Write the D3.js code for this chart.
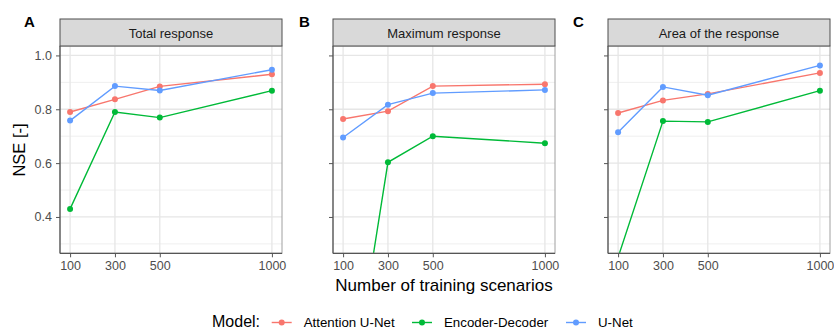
<!DOCTYPE html>
<html>
<head>
<meta charset="utf-8">
<script src="https://cdn.jsdelivr.net/npm/d3@7/dist/d3.min.js"></script>
<style>
  html, body { margin: 0; padding: 0; background: #fff; }
  svg { display: block; font-family: "Liberation Sans", Arial, sans-serif; }
</style>
</head>
<body>
<svg id="chart" width="834" height="332"></svg>
<script>
// Training set sizes on the x axis
const scenarios = [100, 300, 500, 1000];
const xTicks = [100, 300, 500, 1000];
const yTicks = [0.4, 0.6, 0.8, 1.0];
const yMinor = [0.3, 0.5, 0.7, 0.9];

const models = ["Attention U-Net", "Encoder-Decoder", "U-Net"];
const modelColors = ["#F8766D", "#00BA38", "#619CFF"];

const panels = ["Total response", "Maximum response", "Area of the response"];
const panelTags = ["A", "B", "C"];

// NSE per model, one array per panel
const totalAttention = [0.790, 0.837, 0.885, 0.930];
const totalEncDec    = [0.430, 0.790, 0.769, 0.869];
const totalUNet      = [0.758, 0.886, 0.870, 0.947];

const maxAttention = [0.764, 0.793, 0.886, 0.893];
const maxEncDec    = [-0.45, 0.603, 0.700, 0.674];
const maxUNet      = [0.695, 0.817, 0.860, 0.872];

const areaAttention = [0.786, 0.833, 0.857, 0.935];
const areaEncDec    = [0.250, 0.756, 0.753, 0.869];
const areaUNet      = [0.715, 0.883, 0.852, 0.963];

const panelSeries = [
  [totalAttention, totalEncDec, totalUNet],
  [maxAttention, maxEncDec, maxUNet],
  [areaAttention, areaEncDec, areaUNet]
];

const svg = d3.select("#chart");

// layout
const panelLeft = [60, 333, 608];
const panelW = 222;
const stripTop = 19, plotTop = 46, plotBottom = 253.3;
const tagX = [24, 299, 573];

const y = d3.scaleLinear().domain([0.265, 1.035]).range([plotBottom, plotTop]);

panels.forEach((title, p) => {
  const x0 = panelLeft[p];
  const x = d3.scaleLinear().domain([55, 1045]).range([x0, x0 + panelW]);
  const g = svg.append("g");

  // panel background + grid
  g.append("rect").attr("x", x0).attr("y", plotTop).attr("width", panelW)
    .attr("height", plotBottom - plotTop).attr("fill", "#fff");
  g.selectAll(".ymin").data(yMinor).join("line")
    .attr("x1", x0).attr("x2", x0 + panelW)
    .attr("y1", d => y(d)).attr("y2", d => y(d))
    .attr("stroke", "#EFEFEF").attr("stroke-width", 1);
  g.selectAll(".ymaj").data(yTicks).join("line")
    .attr("x1", x0).attr("x2", x0 + panelW)
    .attr("y1", d => y(d)).attr("y2", d => y(d))
    .attr("stroke", "#E6E6E6").attr("stroke-width", 1.3);
  g.selectAll(".xmaj").data(xTicks).join("line")
    .attr("x1", d => x(d)).attr("x2", d => x(d))
    .attr("y1", plotTop).attr("y2", plotBottom)
    .attr("stroke", "#E6E6E6").attr("stroke-width", 1.3);

  // clip for data
  const clipId = "clip" + p;
  svg.append("clipPath").attr("id", clipId).append("rect")
    .attr("x", x0).attr("y", plotTop).attr("width", panelW).attr("height", plotBottom - plotTop);
  const dg = g.append("g").attr("clip-path", `url(#${clipId})`);

  const line = d3.line().x((d, i) => x(scenarios[i])).y(d => y(d));
  panelSeries[p].forEach((vals, m) => {
    dg.append("path").datum(vals).attr("d", line)
      .attr("fill", "none").attr("stroke", modelColors[m]).attr("stroke-width", 1.4);
    dg.selectAll(null).data(vals).join("circle")
      .attr("cx", (d, i) => x(scenarios[i])).attr("cy", d => y(d))
      .attr("r", 3).attr("fill", modelColors[m]);
  });

  // panel border (light) and axis lines (dark)
  g.append("rect").attr("x", x0).attr("y", plotTop).attr("width", panelW)
    .attr("height", plotBottom - plotTop).attr("fill", "none").attr("stroke", "#A0A0A0").attr("stroke-width", 1);

  const xAxis = d3.axisBottom(x).tickValues(xTicks).tickSize(4).tickPadding(4).tickFormat(d3.format("d"));
  const xa = g.append("g").attr("transform", `translate(0,${plotBottom})`).call(xAxis);
  xa.select(".domain").attr("stroke", "#555").attr("stroke-width", 1.2).attr("d", `M${x0},0H${x0 + panelW}`);
  xa.selectAll(".tick line").attr("stroke", "#555");
  xa.selectAll(".tick text").attr("fill", "#4D4D4D").attr("font-size", 12.5)
    .attr("font-family", "Liberation Sans, Arial, sans-serif");

  const yAxis = d3.axisLeft(y).tickValues(yTicks).tickSize(4).tickPadding(4)
    .tickFormat(p === 0 ? d3.format(".1f") : () => "");
  const ya = g.append("g").attr("transform", `translate(${x0},0)`).call(yAxis);
  ya.select(".domain").attr("stroke", "#555").attr("stroke-width", 1.2).attr("d", `M0,${plotTop}V${plotBottom}`);
  ya.selectAll(".tick line").attr("stroke", "#555");
  ya.selectAll(".tick text").attr("fill", "#4D4D4D").attr("font-size", 12.5)
    .attr("font-family", "Liberation Sans, Arial, sans-serif");

  // strip
  g.append("rect").attr("x", x0).attr("y", stripTop).attr("width", panelW)
    .attr("height", plotTop - stripTop).attr("fill", "#D9D9D9").attr("stroke", "#4D4D4D").attr("stroke-width", 1);
  g.append("text").attr("x", x0 + panelW / 2).attr("y", 37.5).attr("text-anchor", "middle")
    .attr("font-size", 13).attr("fill", "#1A1A1A").text(title);

  // panel tag
  svg.append("text").attr("x", tagX[p]).attr("y", 26.7).attr("font-size", 15)
    .attr("font-weight", "bold").attr("fill", "#000").text(panelTags[p]);
});

// axis titles
svg.append("text").attr("transform", "translate(25,150) rotate(-90)")
  .attr("text-anchor", "middle").attr("font-size", 16.5).attr("fill", "#000").text("NSE [-]");
svg.append("text").attr("x", 444).attr("y", 290.5).attr("text-anchor", "middle")
  .attr("font-size", 17).attr("fill", "#000").text("Number of training scenarios");

// legend
const legY = 322.5;
svg.append("text").attr("x", 212).attr("y", legY + 4.5).attr("font-size", 16).attr("fill", "#000").text("Model:");
const keyX = [281.7, 422, 576];
models.forEach((m, i) => {
  const lg = svg.append("g");
  lg.append("line").attr("x1", keyX[i] - 10).attr("x2", keyX[i] + 10)
    .attr("y1", legY).attr("y2", legY).attr("stroke", modelColors[i]).attr("stroke-width", 1.4);
  lg.append("circle").attr("cx", keyX[i]).attr("cy", legY).attr("r", 3).attr("fill", modelColors[i]);
  lg.append("text").attr("x", keyX[i] + 22).attr("y", legY + 4.5).attr("font-size", 13.3)
    .attr("fill", "#000").text(m);
});
</script>
</body>
</html>
